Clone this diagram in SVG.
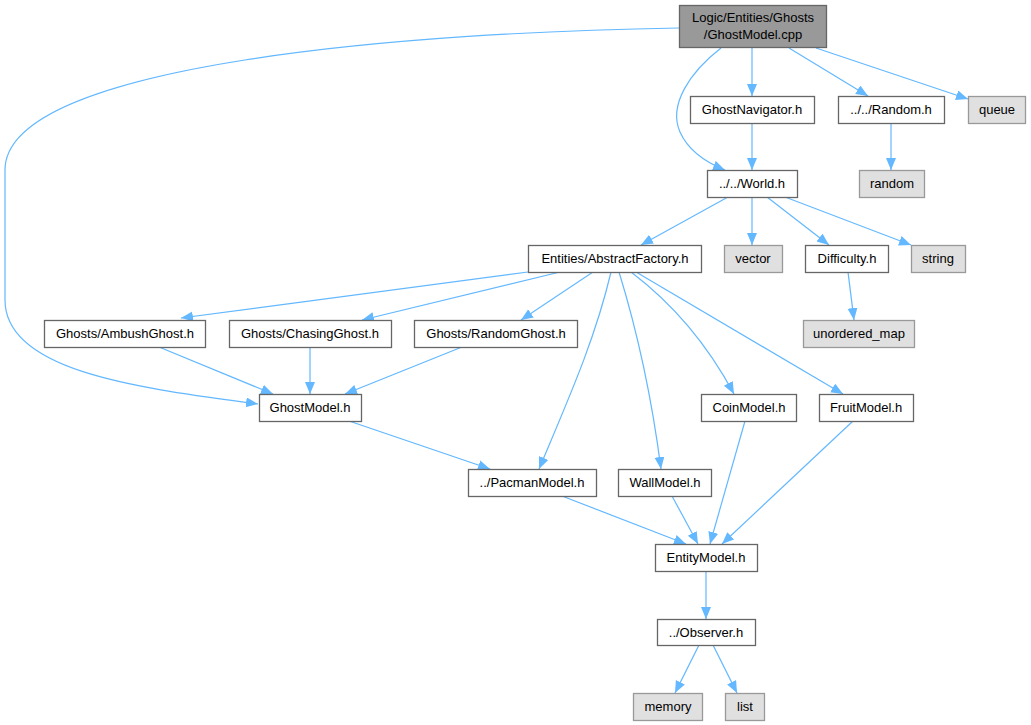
<svg xmlns="http://www.w3.org/2000/svg" width="1031" height="725" viewBox="0 0 1031 725">
<style>
.n rect{fill:#ffffff;stroke:#666666;stroke-width:1.3}
.s rect{fill:#e0e0e0;stroke:#999999;stroke-width:1.3}
.m rect{fill:#999999;stroke:#666666;stroke-width:1.3}
text{font-family:"Liberation Sans",Arial,sans-serif;font-size:13px;fill:#000000;text-anchor:middle}
#edges path{fill:none;stroke:#63b8ff;stroke-width:1.2;marker-end:url(#ah)}
</style>
<defs>
<marker id="ah" markerUnits="userSpaceOnUse" markerWidth="13" markerHeight="11" refX="12" refY="5" orient="auto">
<path d="M0,0 L12,5 L0,10 z" fill="#63b8ff" stroke="none"/>
</marker>
</defs>
<rect width="1031" height="725" fill="#ffffff"/>
<g id="edges">
<path d="M679,28 C420,32 5,62 5,170 L5,300 C5,372 140,388 258,404"/>
<path d="M721,48 C690,72 668,105 680,132 C688,150 705,162 725,170"/>
<path d="M752,48 L752,96"/>
<path d="M789,48 L868,96"/>
<path d="M816,48 L968,99"/>
<path d="M752,123 L752,170"/>
<path d="M891,123 L891,170"/>
<path d="M728,197 L641,245"/>
<path d="M752,197 L752,245"/>
<path d="M767,197 L829,245"/>
<path d="M785,197 L911,245"/>
<path d="M848,272 L854,320"/>
<path d="M528,272 L181,318"/>
<path d="M560,272 L362,320"/>
<path d="M593,272 L521,320"/>
<path d="M611,272 C595,340 568,400 539,469"/>
<path d="M619,272 C640,340 652,400 661,469"/>
<path d="M631,272 C668,300 705,340 734,394"/>
<path d="M636,272 L843,394"/>
<path d="M159,347 L273,394"/>
<path d="M310,347 L310,394"/>
<path d="M462,347 L345,394"/>
<path d="M349,421 L490,469"/>
<path d="M562,496 L686,544"/>
<path d="M672,496 L698,544"/>
<path d="M745,421 L710,544"/>
<path d="M853,421 L722,544"/>
<path d="M706,571 L706,619"/>
<path d="M699,645 L675,693"/>
<path d="M713,645 L737,693"/>
</g>
<g id="GhostModel_cpp" class="m"><rect x="679.5" y="5.5" width="147" height="42"/><text x="753" y="22">Logic/Entities/Ghosts</text><text x="753" y="39">/GhostModel.cpp</text></g>
<g id="GhostNavigator_h" class="n"><rect x="690.5" y="96.5" width="124" height="27"/><text x="752" y="114">GhostNavigator.h</text></g>
<g id="Random_h" class="n"><rect x="838.5" y="96.5" width="106" height="27"/><text x="891" y="114">../../Random.h</text></g>
<g id="queue" class="s"><rect x="968.5" y="96.5" width="57" height="27"/><text x="997" y="114">queue</text></g>
<g id="random" class="s"><rect x="859.5" y="170.5" width="65" height="27"/><text x="892" y="188">random</text></g>
<g id="World_h" class="n"><rect x="707.5" y="170.5" width="90" height="27"/><text x="752" y="188">../../World.h</text></g>
<g id="AbstractFactory_h" class="n"><rect x="528.5" y="245.5" width="173" height="27"/><text x="615" y="263">Entities/AbstractFactory.h</text></g>
<g id="vector" class="s"><rect x="724.5" y="245.5" width="58" height="27"/><text x="753" y="263">vector</text></g>
<g id="Difficulty_h" class="n"><rect x="805.5" y="245.5" width="83" height="27"/><text x="847" y="263">Difficulty.h</text></g>
<g id="string" class="s"><rect x="911.5" y="245.5" width="54" height="27"/><text x="938" y="263">string</text></g>
<g id="unordered_map" class="s"><rect x="803.5" y="320.5" width="111" height="27"/><text x="859" y="338">unordered_map</text></g>
<g id="AmbushGhost_h" class="n"><rect x="44.5" y="320.5" width="161" height="27"/><text x="125" y="338">Ghosts/AmbushGhost.h</text></g>
<g id="ChasingGhost_h" class="n"><rect x="229.5" y="320.5" width="162" height="27"/><text x="310" y="338">Ghosts/ChasingGhost.h</text></g>
<g id="RandomGhost_h" class="n"><rect x="414.5" y="320.5" width="163" height="27"/><text x="496" y="338">Ghosts/RandomGhost.h</text></g>
<g id="GhostModel_h" class="n"><rect x="259.5" y="394.5" width="102" height="27"/><text x="310" y="412">GhostModel.h</text></g>
<g id="CoinModel_h" class="n"><rect x="701.5" y="394.5" width="95" height="27"/><text x="749" y="412">CoinModel.h</text></g>
<g id="FruitModel_h" class="n"><rect x="819.5" y="394.5" width="94" height="27"/><text x="866" y="412">FruitModel.h</text></g>
<g id="PacmanModel_h" class="n"><rect x="468.5" y="469.5" width="128" height="27"/><text x="532" y="487">../PacmanModel.h</text></g>
<g id="WallModel_h" class="n"><rect x="618.5" y="469.5" width="93" height="27"/><text x="665" y="487">WallModel.h</text></g>
<g id="EntityModel_h" class="n"><rect x="655.5" y="544.5" width="102" height="27"/><text x="706" y="562">EntityModel.h</text></g>
<g id="Observer_h" class="n"><rect x="657.5" y="619.5" width="98" height="26"/><text x="706" y="637">../Observer.h</text></g>
<g id="memory" class="s"><rect x="633.5" y="693.5" width="69" height="27"/><text x="668" y="711">memory</text></g>
<g id="list" class="s"><rect x="725.5" y="693.5" width="39" height="27"/><text x="745" y="711">list</text></g>
</svg>
